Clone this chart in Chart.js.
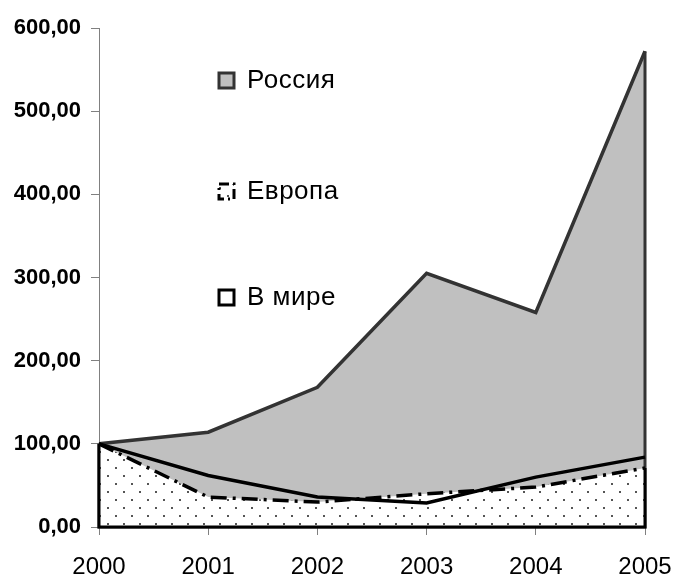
<!DOCTYPE html>
<html>
<head>
<meta charset="utf-8">
<script src="https://cdn.jsdelivr.net/npm/chart.js@4"></script>
<style>
  body { margin: 0; background: #fff; }
  #wrap { width: 674px; height: 579px; position: relative; }
</style>
</head>
<body>
<div id="wrap"><canvas id="chart"></canvas></div>
<script>
var years = ['2000', '2001', '2002', '2003', '2004', '2005'];
var russia = [100, 114, 168, 305, 258, 572];
var europe = [100, 36, 30, 40, 48, 71];
var world = [100, 62, 36, 29, 60, 84];
var seriesNames = ['Россия', 'Европа', 'В мире'];

Chart.defaults.font.family = '"Liberation Sans", Arial, sans-serif';
Chart.defaults.color = '#000';

// white tile with staggered grey dots, like the excel pattern fill
function dotPattern() {
  var c = document.createElement('canvas');
  c.width = 16; c.height = 16;
  var g = c.getContext('2d');
  g.fillStyle = '#fff';
  g.fillRect(0, 0, 16, 16);
  g.fillStyle = '#555';
  g.fillRect(3, 3, 2, 2);
  g.fillRect(11, 11, 2, 2);
  return g.createPattern(c, 'repeat');
}
var dots = dotPattern();

// close the area outline down to the axis (excel draws the whole polygon border)
var areaEdges = {
  id: 'areaEdges',
  afterDatasetDraw: function (chart, args) {
    var ds = chart.data.datasets[args.index];
    if (!ds.edgeColor) return;
    var pts = args.meta.data;
    var first = pts[0], last = pts[pts.length - 1];
    var y0 = chart.scales.y.getPixelForValue(0);
    var ctx = chart.ctx;
    ctx.save();
    ctx.strokeStyle = ds.edgeColor;
    ctx.lineWidth = 3;
    ctx.beginPath();
    ctx.moveTo(last.x, last.y);
    ctx.lineTo(last.x, y0);
    ctx.lineTo(first.x, y0);
    ctx.lineTo(first.x, first.y);
    ctx.stroke();
    ctx.restore();
  }
};

// legend sits inside the plot, one item per row with big gaps
var floatLegend = {
  id: 'floatLegend',
  afterDraw: function (chart) {
    var ctx = chart.ctx;
    var x = 219, rows = [80, 191, 297];
    ctx.save();
    ctx.font = '26px "Liberation Sans", Arial, sans-serif';
    ctx.textBaseline = 'middle';
    rows.forEach(function (y, i) {
      var bx = x, by = y - 7, s = 15;
      ctx.setLineDash([]);
      ctx.lineWidth = 3;
      if (i === 0) {
        ctx.fillStyle = '#c0c0c0';
        ctx.fillRect(bx, by, s, s);
        ctx.strokeStyle = '#333';
        ctx.strokeRect(bx, by, s, s);
      } else if (i === 1) {
        ctx.fillStyle = dots;
        ctx.fillRect(bx, by, s, s);
        ctx.strokeStyle = '#000';
        ctx.setLineDash([10, 4, 2, 4]);
        ctx.strokeRect(bx, by, s, s);
        ctx.setLineDash([]);
      } else {
        ctx.fillStyle = '#fff';
        ctx.fillRect(bx, by, s, s);
        ctx.strokeStyle = '#000';
        ctx.strokeRect(bx, by, s, s);
      }
      ctx.fillStyle = '#000';
      ctx.letterSpacing = '0.5px';
      ctx.fillText(seriesNames[i], x + 28, y + 1);
      ctx.letterSpacing = '0px';
    });
    ctx.restore();
  }
};

var chart = new Chart(document.getElementById('chart'), {
  type: 'line',
  plugins: [areaEdges, floatLegend],
  data: {
    labels: years,
    datasets: [
      {
        label: seriesNames[0],
        data: russia,
        fill: 'origin',
        backgroundColor: '#c0c0c0',
        borderColor: '#333',
        borderWidth: 3.5,
        edgeColor: '#333',
        pointRadius: 0,
        order: 3
      },
      {
        label: seriesNames[1],
        data: europe,
        fill: 'origin',
        backgroundColor: dots,
        borderColor: '#000',
        borderWidth: 3.5,
        borderDash: [16, 6, 3, 6],
        edgeColor: '#000',
        pointRadius: 0,
        order: 2
      },
      {
        label: seriesNames[2],
        data: world,
        fill: false,
        borderColor: '#000',
        borderWidth: 3.5,
        pointRadius: 0,
        order: 1
      }
    ]
  },
  options: {
    responsive: true,
    maintainAspectRatio: false,
    animation: false,
    layout: {
      padding: { top: 28, right: 29, left: 0, bottom: 0 }
    },
    plugins: {
      legend: { display: false },
      tooltip: { enabled: false }
    },
    elements: {
      line: { tension: 0 }
    },
    scales: {
      x: {
        offset: false,
        grid: {
          drawOnChartArea: false,
          tickLength: 8,
          color: '#808080'
        },
        border: { color: '#000', width: 1 },
        ticks: {
          font: { size: 24 },
          padding: 18,
          maxRotation: 0,
          autoSkip: false
        },
        afterFit: function (scale) {
          scale.height = 52;
          // the last label may hang past the plot edge, as in the original
          scale.paddingRight = 29;
        }
      },
      y: {
        min: 0,
        max: 600,
        grid: {
          drawOnChartArea: false,
          tickLength: 8,
          color: '#808080'
        },
        border: { color: '#808080', width: 1 },
        ticks: {
          stepSize: 100,
          padding: 10,
          font: { size: 22, weight: 'bold' },
          callback: function (v) { return v.toFixed(2).replace('.', ','); }
        },
        afterFit: function (scale) { scale.width = 99; }
      }
    }
  }
});
</script>
</body>
</html>
